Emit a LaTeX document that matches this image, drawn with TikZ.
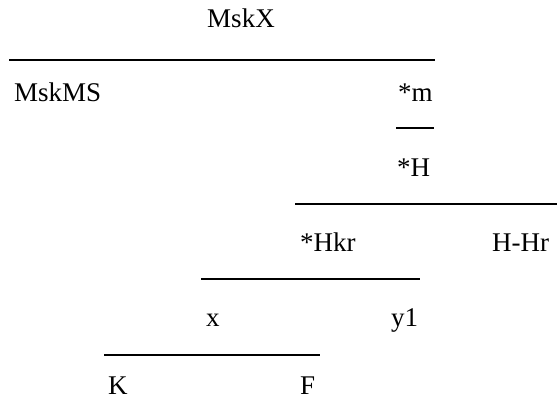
\documentclass[tikz,border=0pt]{standalone}
\usepackage{fontspec}
\setmainfont{Liberation Serif}
\usepackage{tikz}

\begin{document}
\begin{tikzpicture}[x=1pt, y=-1pt,
    lbl/.style={inner sep=0pt, anchor=base west, font=\fontsize{27}{32}\selectfont},
    bar/.style={line width=1.2pt}]
    \useasboundingbox (0,0) rectangle (557,401);

    % Conclusion
    \node[lbl, anchor=base] (mskx) at (241,28) {MskX};
    \draw[bar] (9,60) -- (435,60);

    % Premises of the last step
    \node[lbl] (mskms) at (14,102) {MskMS};
    \node[lbl] (m) at (398,102) {*m};
    \draw[bar] (396,128) -- (434,128);
    \node[lbl] (h) at (397,176) {*H};
    \draw[bar] (295,204) -- (557,204);

    % Branch for *H
    \node[lbl] (hkr) at (300,251) {*Hkr};
    \node[lbl] (hhr) at (492,251) {H-Hr};
    \draw[bar] (201,279) -- (420,279);

    % Branch for *Hkr
    \node[lbl] (x) at (206,326) {x};
    \node[lbl] (y1) at (391,326) {y1};
    \draw[bar] (104,355) -- (320,355);

    % Leaves
    \node[lbl] (k) at (108,394) {K};
    \node[lbl] (f) at (300,394) {F};
\end{tikzpicture}
\end{document}
